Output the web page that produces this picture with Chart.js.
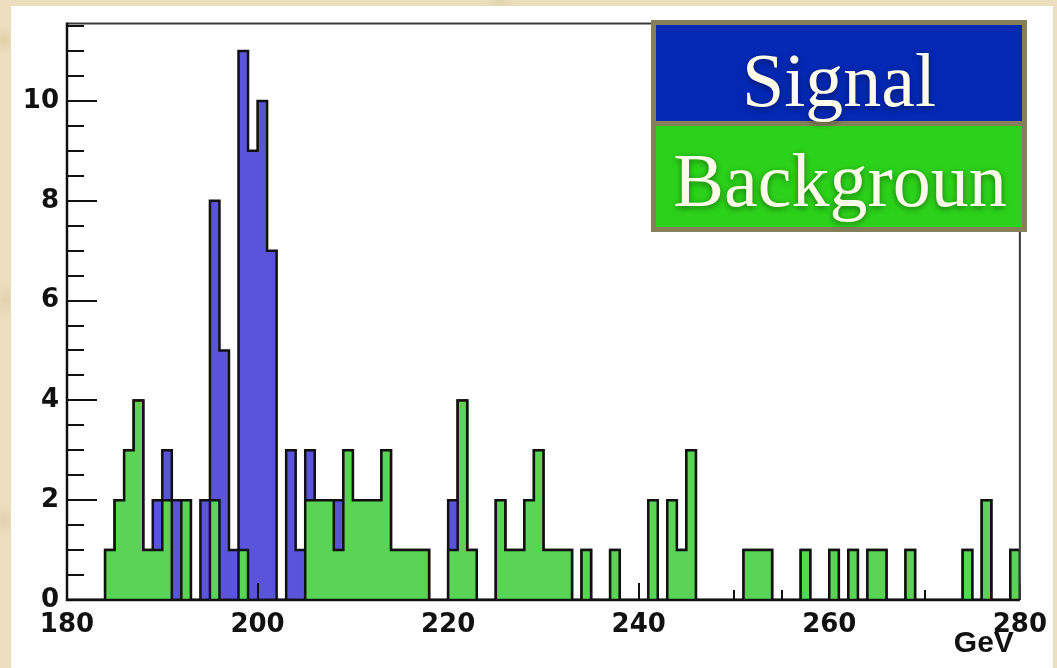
<!DOCTYPE html>
<html>
<head>
<meta charset="utf-8">
<title>Signal and background mass spectrum</title>
<script src="https://cdn.jsdelivr.net/npm/chart.js@4.4.1/dist/chart.umd.min.js"></script>
<style>
  html, body { margin: 0; padding: 0; }
  body {
    width: 1057px; height: 668px; overflow: hidden; position: relative;
    background-color: #ecdfbf;
    background-image:
      radial-gradient(circle at 3px 40px, rgba(200,180,130,0.35) 0, rgba(200,180,130,0) 14px),
      radial-gradient(circle at 6px 300px, rgba(210,190,140,0.35) 0, rgba(210,190,140,0) 20px),
      radial-gradient(circle at 4px 520px, rgba(205,185,135,0.3) 0, rgba(205,185,135,0) 18px),
      radial-gradient(circle at 500px 2px, rgba(205,185,135,0.3) 0, rgba(205,185,135,0) 16px);
  }
  #panel { position: absolute; left: 11px; top: 6px; width: 1042px; height: 662px; background: #ffffff; }
  #wrap { position: absolute; left: 0; top: 0; width: 1057px; height: 668px; }
</style>
</head>
<body>
<div id="panel"></div>
<div id="wrap"><canvas id="chart" width="1057" height="668"></canvas></div>
<script>
// Histogram binning: 100 bins of 1 GeV from 180 to 280 GeV
const binLow = 180;
const binHigh = 280;
const binWidth = 1;

// Signal stacked on background (counts per bin)
const signalStack = [
  0, 0, 0, 0, 1, 2, 3, 4, 1, 2,    // 180-189
  3, 2, 2, 0, 2, 8, 5, 1, 11, 9,   // 190-199
  10, 7, 0, 3, 1, 3, 2, 2, 2, 3,   // 200-209
  2, 2, 2, 3, 1, 1, 1, 1, 0, 0,    // 210-219
  2, 4, 1, 0, 0, 2, 1, 1, 2, 3,    // 220-229
  1, 1, 1, 0, 1, 0, 0, 1, 0, 0,    // 230-239
  0, 2, 0, 2, 1, 3, 0, 0, 0, 0,    // 240-249
  0, 1, 1, 1, 0, 0, 0, 1, 0, 0,    // 250-259
  1, 0, 1, 0, 1, 1, 0, 0, 1, 0,    // 260-269
  0, 0, 0, 0, 1, 0, 2, 0, 0, 1     // 270-279
];

// Background only (counts per bin)
const background = [
  0, 0, 0, 0, 1, 2, 3, 4, 1, 1,
  2, 0, 2, 0, 0, 2, 0, 0, 1, 0,
  0, 0, 0, 0, 0, 2, 2, 2, 1, 3,
  2, 2, 2, 3, 1, 1, 1, 1, 0, 0,
  1, 4, 1, 0, 0, 2, 1, 1, 2, 3,
  1, 1, 1, 0, 1, 0, 0, 1, 0, 0,
  0, 2, 0, 2, 1, 3, 0, 0, 0, 0,
  0, 1, 1, 1, 0, 0, 0, 1, 0, 0,
  1, 0, 1, 0, 1, 1, 0, 0, 1, 0,
  0, 0, 0, 0, 1, 0, 2, 0, 0, 1
];

// Axis ticks and labels
const xTickValues = [180, 200, 220, 240, 260, 280];
const yTickValues = [0, 2, 4, 6, 8, 10];
const xMinorStep = 5;
const yMinorStep = 0.5;
const yMax = 11.55;
const xTitle = 'GeV';
const legendLabels = ['Signal', 'Backgroun'];

// Turn per-bin counts into the corner points of a stepped outline
function histogramPoints(counts) {
  const pts = counts.map((c, i) => ({ x: binLow + i * binWidth, y: c }));
  pts.push({ x: binHigh, y: counts[counts.length - 1] });
  pts.push({ x: binHigh, y: 0 });
  return pts;
}

const INK = '#111111';

function drawAxisTicks(chart) {
  const { ctx, chartArea: a, scales: { x, y } } = chart;
  ctx.save();
  ctx.strokeStyle = INK;
  ctx.lineWidth = 2;
  ctx.beginPath();
  for (let v = binLow; v <= binHigh + 1e-9; v += xMinorStep) {
    const px = Math.round(x.getPixelForValue(v)) + 0.0;
    const major = xTickValues.includes(v);
    const len = major ? 17 : 10;
    ctx.moveTo(px, a.bottom);
    ctx.lineTo(px, a.bottom - len);
  }
  for (let v = 0; v <= yMax + 1e-9; v += yMinorStep) {
    const py = Math.round(y.getPixelForValue(v));
    const major = Math.abs(v / 2 - Math.round(v / 2)) < 1e-9;
    const len = major ? 30 : 17;
    ctx.moveTo(a.left, py);
    ctx.lineTo(a.left + len, py);
  }
  ctx.stroke();
  ctx.restore();
}

const histoDecor = {
  id: 'histoDecor',
  afterDatasetDraw(chart, args) {
    // axis ticks sit above the stacked histogram but under the background one
    if (chart.data.datasets[args.index].label === legendLabels[0]) drawAxisTicks(chart);
  },
  afterDatasetsDraw(chart) {
    const { ctx, chartArea: a } = chart;
    ctx.save();
    // frame
    ctx.strokeStyle = '#3a3a3a';
    ctx.lineWidth = 2;
    ctx.beginPath();
    ctx.moveTo(a.left, a.top);
    ctx.lineTo(a.right, a.top);
    ctx.lineTo(a.right, a.bottom);
    ctx.stroke();
    // axes
    ctx.strokeStyle = INK;
    ctx.lineWidth = 2.5;
    ctx.beginPath();
    ctx.moveTo(a.left, a.top - 1);
    ctx.lineTo(a.left, a.bottom);
    ctx.lineTo(a.right, a.bottom);
    ctx.stroke();
    // axis title, right-aligned under the last label
    ctx.fillStyle = INK;
    ctx.font = 'bold 30px "Liberation Sans", Arial, sans-serif';
    ctx.textAlign = 'right';
    ctx.textBaseline = 'alphabetic';
    ctx.fillText(xTitle, a.right - 6, 652);
    ctx.restore();
  },
  afterDraw(chart) {
    const { ctx } = chart;
    ctx.save();
    // legend panel
    ctx.fillStyle = '#85805a';
    ctx.fillRect(651, 20, 376, 212);
    ctx.fillStyle = '#0329b4';
    ctx.fillRect(656, 25, 366, 96);
    ctx.fillStyle = '#2cd21a';
    ctx.fillRect(656, 126, 366, 101);
    ctx.font = '76px "Liberation Serif", "Times New Roman", serif';
    ctx.textAlign = 'center';
    ctx.textBaseline = 'alphabetic';
    ctx.fillStyle = '#fffbea';
    ctx.shadowColor = 'rgba(0,0,0,0.45)';
    ctx.shadowBlur = 6;
    ctx.shadowOffsetY = 2;
    ctx.fillText(legendLabels[0], 839, 106);
    ctx.fillText(legendLabels[1], 840, 206);
    ctx.restore();
  }
};

const tickFont = { family: '"DejaVu Sans", Arial, sans-serif', weight: 'bold', size: 26 };

new Chart(document.getElementById('chart'), {
  type: 'line',
  data: {
    datasets: [
      {
        label: legendLabels[1],
        data: histogramPoints(background),
        order: 0,
        stepped: true,
        fill: 'origin',
        backgroundColor: '#59d454',
        borderColor: INK,
        borderWidth: 2.5,
        pointRadius: 0,
        borderJoinStyle: 'miter'
      },
      {
        label: legendLabels[0],
        data: histogramPoints(signalStack),
        order: 1,
        stepped: true,
        fill: 'origin',
        backgroundColor: '#5954d9',
        borderColor: INK,
        borderWidth: 2.5,
        pointRadius: 0,
        borderJoinStyle: 'miter'
      }
    ]
  },
  options: {
    responsive: false,
    animation: false,
    events: [],
    layout: { padding: { left: 0, top: 22, right: 35, bottom: 0 } },
    plugins: { legend: { display: false }, tooltip: { enabled: false } },
    scales: {
      x: {
        type: 'linear',
        min: binLow,
        max: binHigh,
        grid: { display: false, drawTicks: false },
        border: { display: false },
        ticks: { font: tickFont, color: INK, padding: 10, maxRotation: 0, autoSkip: false },
        afterBuildTicks: s => { s.ticks = xTickValues.map(v => ({ value: v })); },
        afterFit: s => { s.height = 68; }
      },
      y: {
        type: 'linear',
        min: 0,
        max: yMax,
        grid: { display: false, drawTicks: false },
        border: { display: false },
        ticks: { font: tickFont, color: INK, padding: 8 },
        afterBuildTicks: s => { s.ticks = yTickValues.map(v => ({ value: v })); },
        afterFit: s => { s.width = 67; }
      }
    }
  },
  plugins: [histoDecor]
});
</script>
</body>
</html>
